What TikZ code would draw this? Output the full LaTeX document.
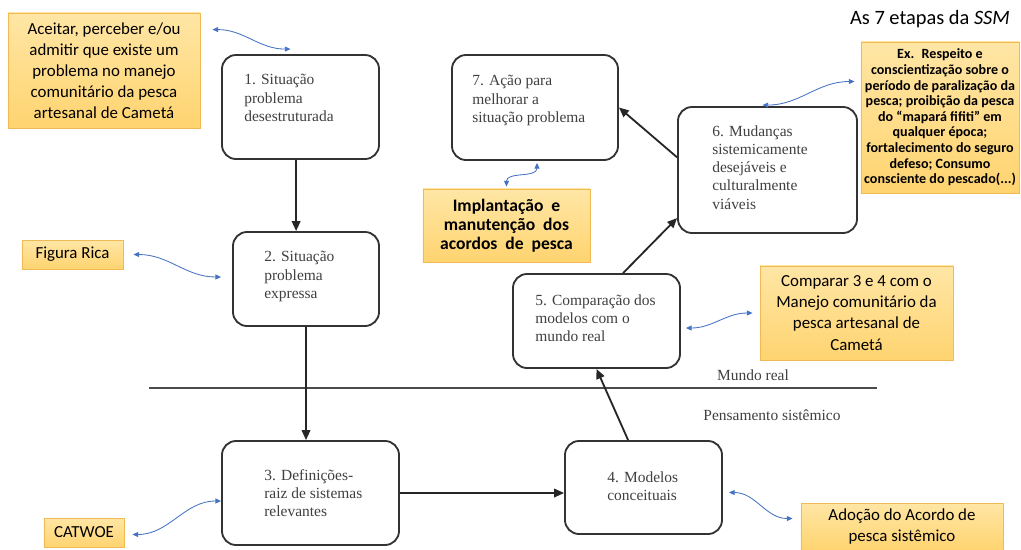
\documentclass[tikz,border=0pt]{standalone}
\usepackage{fontspec}
\setmainfont{Liberation Serif}
\newfontfamily\calibri{Carlito}
\usepackage{tikz}
\usetikzlibrary{arrows.meta, positioning}
\usepackage{xcolor}
\definecolor{ssmorange}{RGB}{255,212,112}
\definecolor{ssmorangetop}{RGB}{255,230,165}
\definecolor{ssmorangeline}{RGB}{240,186,84}
\definecolor{ssmblue}{RGB}{68,114,196}
\definecolor{ssmgray}{RGB}{64,64,64}
\tikzstyle{etapa} = [rectangle, rounded corners=10pt, draw=black!80, line width=1.3pt, fill=white]
\tikzstyle{etapatxt} = [anchor=north west, inner sep=0pt, align=left, text=ssmgray, font=\fontsize{11}{13}\selectfont]
\tikzstyle{nota} = [rectangle, draw=ssmorangeline, line width=0.6pt, top color=ssmorangetop, bottom color=ssmorange, align=center, inner sep=2pt, font=\calibri\fontsize{12}{15}\selectfont]
\tikzstyle{rotulo} = [text=ssmgray, font=\fontsize{11}{13}\selectfont]
\tikzstyle{arrow} = [line width=1.3pt, ->, >={Triangle[length=7pt,width=6pt]}, black!85]
\tikzstyle{link} = [line width=0.6pt, <->, >={Triangle[length=4pt,width=3.5pt]}, ssmblue]
\tikzstyle{divisa} = [line width=1.2pt, black!70]

\begin{document}
\begin{tikzpicture}[x=0.025cm, y=-0.025cm]
\useasboundingbox (0,0) rectangle (1021,549);

% Title
\node[font=\calibri\fontsize{14.5}{17}\selectfont] (titulo) at (930,19) {As 7 etapas da \textit{SSM}};

% The seven stages
\node[etapa, minimum width=3.925cm, minimum height=2.6cm] (e1) at (300.5,107) {};
\node[etapa, minimum width=3.65cm, minimum height=2.35cm] (e2) at (306,279) {};
\node[etapa, minimum width=4.425cm, minimum height=2.6cm] (e3) at (310.5,493) {};
\node[etapa, minimum width=3.925cm, minimum height=2.325cm] (e4) at (643.5,487.5) {};
\node[etapa, minimum width=4.175cm, minimum height=2.35cm] (e5) at (596.5,321) {};
\node[etapa, minimum width=4.475cm, minimum height=3.15cm] (e6) at (767.5,170) {};
\node[etapa, minimum width=4.15cm, minimum height=2.625cm] (e7) at (535,107.5) {};

\node[etapatxt] (t1) at ([shift={(23,20)}]e1.north west) {1. Situação\\problema\\desestruturada};
\node[etapatxt] (t2) at ([shift={(32,20)}]e2.north west) {2. Situação\\problema\\expressa};
\node[etapatxt] (t3) at ([shift={(43,29)}]e3.north west) {3. Definições-\\raiz de sistemas\\relevantes};
\node[etapatxt] (t4) at ([shift={(43,31)}]e4.north west) {4. Modelos\\conceituais};
\node[etapatxt] (t5) at ([shift={(23,21)}]e5.north west) {5. Comparação dos\\modelos com o\\mundo real};
\node[etapatxt] (t6) at ([shift={(35,19)}]e6.north west) {6. Mudanças\\sistemicamente\\desejáveis e\\culturalmente\\viáveis};
\node[etapatxt] (t7) at ([shift={(21,21)}]e7.north west) {7. Ação para\\melhorar a\\situação problema};

% Real world / systems thinking
\coordinate (mundoA) at (149,388);
\coordinate (mundoB) at (877,388);
\draw[divisa] (mundoA) -- (mundoB);
\node[rotulo] (mundo) at (753,375) {Mundo real};
\node[rotulo] (pensamento) at (772,415) {Pensamento sistêmico};

% Notes
\node[nota, minimum width=4.8cm, minimum height=2.875cm] (aceitar) at (104,70.5) {Aceitar, perceber e/ou\\admitir que existe um\\problema no manejo\\comunitário da pesca\\artesanal de Cametá};
\node[nota, minimum width=2.525cm, minimum height=0.725cm] (figura) at (72.5,254.5) {Figura Rica};
\node[nota, minimum width=2cm, minimum height=0.725cm] (catwoe) at (84,532.5) {CATWOE};
\node[nota, minimum width=4.175cm, minimum height=1.825cm, font=\calibri\bfseries\fontsize{12.5}{13.5}\selectfont] (implantacao) at (506.5,225.5) {Implantação~ e\\manutenção~ dos\\acordos~ de~ pesca};
\node[nota, minimum width=3.95cm, minimum height=3.775cm, inner sep=1pt, font=\calibri\bfseries\fontsize{10}{11.1}\selectfont] (exemplo) at (940,117.5) {Ex.~ Respeito e\\conscientização sobre o\\período de paralização da\\pesca; proibição da pesca\\do “mapará fifiti” em\\qualquer época;\\fortalecimento do seguro\\defeso; Consumo\\consciente do pescado(...)};
\node[nota, minimum width=4.825cm, minimum height=2.35cm] (comparar) at (856.5,313) {Comparar 3 e 4 com o\\Manejo comunitário da\\pesca artesanal de\\Cametá};
\node[nota, minimum width=5.05cm, minimum height=1.175cm, font=\calibri\fontsize{12}{14.5}\selectfont] (adocao) at (902,526.5) {Adoção do Acordo de\\pesca sistêmico};

% Stage flow
\draw[arrow] ([xshift=-0.11cm]e1.south) -- ([xshift=-0.11cm]e1.south |- e2.north);
\draw[arrow] (e2.south) -- (e2.south |- e3.north);
\draw[arrow] (e3.east) -- (e3.east -| e4.west);
\draw[arrow] (e4.108) -- (e5.south);
\draw[arrow] (e5.61) -- (e6.208);
\draw[arrow] (e6.172) -- (e7.east);

% Links to notes
\draw[link] ([shift={(12,17)}]aceitar.north east) to[out=0,in=180] ([shift={(-10,-5)}]e1.north);
\draw[link] ([shift={(10,0)}]figura.east) to[out=0,in=180] ([shift={(-11,-2)}]e2.west);
\draw[link] ([shift={(8,2)}]catwoe.east) to[out=0,in=180] ([shift={(0,8)}]e3.west);
\draw[link] ([shift={(6,5)}]e4.east) to[out=0,in=180] ([shift={(-8,-8)}]adocao.west);
\draw[link] ([shift={(5,7)}]e5.east) to[out=0,in=180] ([shift={(-7,0)}]comparar.west);
\draw[link] ([shift={(-5,-1)}]e6.north) to[out=0,in=180] ([shift={(-6,-36)}]exemplo.west);
\draw[link] ([shift={(2,2)}]e7.south) to[out=-90,in=90] ([shift={(0,-2)}]implantacao.north);
\end{tikzpicture}
\end{document}
